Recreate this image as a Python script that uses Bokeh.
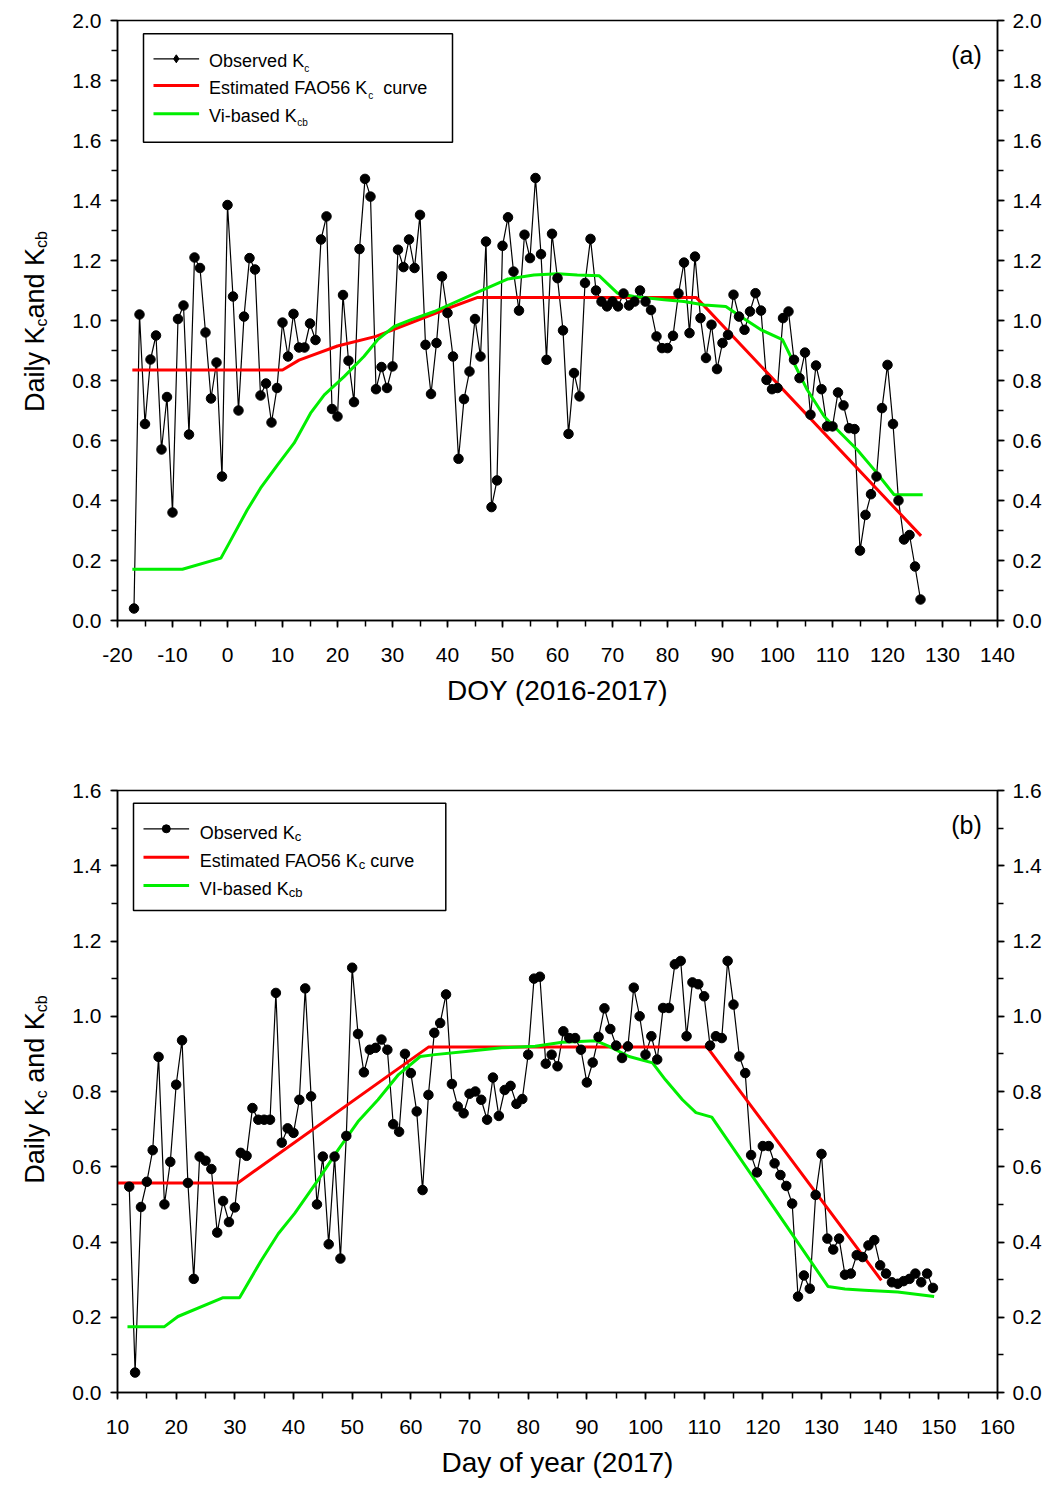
import math
from bokeh.plotting import figure
from bokeh.models import (Range1d, LinearAxis, SingleIntervalTicker,
                          PrintfTickFormatter, Label, BoxAnnotation)
from bokeh.layouts import column, row
from bokeh.embed import file_html
from bokeh.resources import INLINE

FONT = "Liberation Sans"
RED = "#FF0000"
GREEN = "#00EE00"

# ---------------- Panel (a): DOY 2016-2017 ----------------
doy_a = list(range(-17, 127))
kc_obs_a = [
    0.04, 1.02, 0.655, 0.87, 0.95, 0.57, 0.745, 0.36, 1.005, 1.05,
    0.62, 1.21, 1.175, 0.96, 0.74, 0.86, 0.48, 1.385, 1.08, 0.70,
    1.013, 1.208, 1.17, 0.75, 0.79, 0.66, 0.775, 0.993, 0.88, 1.022,
    0.91, 0.91, 0.99, 0.935, 1.27, 1.347, 0.705, 0.68, 1.085, 0.866,
    0.728, 1.238, 1.472, 1.413, 0.771, 0.845, 0.775, 0.847, 1.236, 1.178,
    1.27, 1.175, 1.352, 0.919, 0.755, 0.925, 1.147, 1.025, 0.88, 0.539,
    0.738, 0.83, 1.005, 0.88, 1.263, 0.378, 0.467, 1.249, 1.344, 1.163,
    1.033, 1.286, 1.208, 1.475, 1.221, 0.869, 1.289, 1.141, 0.967, 0.622,
    0.825, 0.747, 1.125, 1.272, 1.10, 1.063, 1.047, 1.063, 1.047, 1.09,
    1.05, 1.063, 1.10, 1.063, 1.035, 0.947, 0.908, 0.908, 0.949, 1.09,
    1.193, 0.958, 1.213, 1.008, 0.875, 0.986, 0.838, 0.925, 0.952, 1.086,
    1.013, 0.969, 1.03, 1.091, 1.033, 0.802, 0.771, 0.775, 1.008, 1.03,
    0.869, 0.808, 0.893, 0.686, 0.85, 0.771, 0.647, 0.647, 0.76, 0.717,
    0.641, 0.638, 0.233, 0.352, 0.421, 0.48, 0.708, 0.852, 0.655, 0.40,
    0.27, 0.285, 0.18, 0.07,
]
fao_doy_a = [-17.3, 10, 13, 20, 27, 33, 40, 45.5, 85.2, 126.1]
fao_kc_a = [0.835, 0.835, 0.868, 0.915, 0.947, 0.99, 1.04, 1.077, 1.077, 0.282]
vi_doy_a = [-17.3, -8.2, -1.2, 0.3, 3.6, 6.0, 9.1, 12.1, 15.1, 17.6,
            21.2, 24.8, 27.3, 30.3, 33.3, 37.6, 45.1, 50.9, 55.7, 60.0,
            63.6, 67.6, 70.9, 73.9, 79.4, 83.0, 86.7, 90.6, 93.3, 97.0,
            100.9, 102.4, 105.4, 108.5, 111.5, 114.5, 117.6, 121.2, 126.4]
vi_kcb_a = [0.171, 0.171, 0.208, 0.258, 0.369, 0.441, 0.519, 0.591, 0.691, 0.752,
            0.813, 0.88, 0.936, 0.98, 1.002, 1.03, 1.091, 1.138, 1.152, 1.156,
            1.152, 1.149, 1.091, 1.08, 1.069, 1.063, 1.052, 1.047, 1.013, 0.969,
            0.936, 0.88, 0.769, 0.68, 0.624, 0.569, 0.502, 0.419, 0.419]

# ---------------- Panel (b): Day of year 2017 ----------------
doy_b = list(range(12, 150))
kc_obs_b = [
    0.547, 0.053, 0.493, 0.56, 0.644, 0.892, 0.50, 0.613, 0.818, 0.936,
    0.557, 0.302, 0.627, 0.616, 0.594, 0.425, 0.509, 0.453, 0.492, 0.637,
    0.629, 0.756, 0.725, 0.725, 0.725, 1.062, 0.664, 0.702, 0.69, 0.778,
    1.074, 0.787, 0.50, 0.627, 0.394, 0.627, 0.356, 0.682, 1.129, 0.953,
    0.851, 0.911, 0.916, 0.938, 0.911, 0.713, 0.693, 0.90, 0.849, 0.747,
    0.538, 0.791, 0.956, 0.982, 1.058, 0.82, 0.76, 0.742, 0.794, 0.80,
    0.778, 0.725, 0.837, 0.735, 0.804, 0.815, 0.767, 0.78, 0.898, 1.10,
    1.105, 0.874, 0.898, 0.867, 0.96, 0.942, 0.942, 0.911, 0.824, 0.877,
    0.945, 1.021, 0.966, 0.922, 0.889, 0.92, 1.076, 1.0, 0.898, 0.947,
    0.885, 1.022, 1.022, 1.138, 1.147, 0.947, 1.09, 1.085, 1.053, 0.922,
    0.947, 0.942, 1.147, 1.031, 0.893, 0.849, 0.631, 0.585, 0.655, 0.655,
    0.609, 0.578, 0.549, 0.502, 0.255, 0.311, 0.276, 0.525, 0.634, 0.409,
    0.38, 0.409, 0.313, 0.316, 0.365, 0.36, 0.391, 0.405, 0.338, 0.316,
    0.293, 0.289, 0.296, 0.302, 0.316, 0.293, 0.316, 0.278,
]
fao_doy_b = [10, 30.5, 63, 110.5, 140.2]
fao_kc_b = [0.557, 0.557, 0.918, 0.918, 0.298]
vi_doy_b = [11.7, 18.0, 20.3, 28.0, 30.8, 34.5, 37.4, 40.2, 44.2, 47.6,
            51.0, 54.4, 57.9, 61.6, 64.1, 69.8, 75.5, 81.2, 85.8, 91.5,
            93.8, 97.2, 101.2, 103.4, 106.3, 108.6, 111.3, 131.1, 134.0, 137.3,
            143.0, 149.2]
vi_kcb_b = [0.175, 0.175, 0.202, 0.252, 0.252, 0.351, 0.422, 0.476, 0.565, 0.645,
            0.72, 0.778, 0.845, 0.893, 0.898, 0.907, 0.916, 0.92, 0.931, 0.935,
            0.92, 0.893, 0.876, 0.831, 0.778, 0.744, 0.732, 0.282, 0.275, 0.272,
            0.267, 0.255]

# Arial / Liberation Sans advance widths (per 1000 em)
AW = {' ': 278, '(': 333, ')': 333, '-': 333, '.': 278,
      'A': 667, 'D': 722, 'E': 667, 'F': 611, 'I': 278, 'K': 667, 'O': 778, 'V': 667,
      'a': 556, 'b': 556, 'c': 500, 'd': 556, 'e': 556, 'i': 222, 'l': 222,
      'm': 833, 'n': 556, 'o': 556, 'r': 333, 's': 500, 't': 278, 'u': 556,
      'v': 500, 'y': 500}


def tw(s, size):
    return sum(AW.get(ch, 556) for ch in s) / 1000.0 * size


FW = 880
LW = 50          # width of the strip that carries the rotated y title
LEFT = 117 - LW  # left border of the plot so the frame starts at x=117


def mapper(x0, x1, y0, y1, fh):
    fx = lambda px: x0 + px * (x1 - x0) / FW
    fy = lambda py: y1 - py * (y1 - y0) / fh
    return fx, fy


def style_axis(ax, size, standoff):
    ax.axis_line_color = "black"
    ax.axis_line_width = 1.5
    ax.major_tick_line_color = "black"
    ax.minor_tick_line_color = "black"
    ax.major_tick_line_width = 1.5
    ax.minor_tick_line_width = 1.5
    ax.major_tick_in = 0
    ax.major_tick_out = 7
    ax.minor_tick_in = 0
    ax.minor_tick_out = 6
    ax.major_label_text_font = FONT
    ax.major_label_text_font_size = f"{size}px"
    ax.major_label_text_color = "black"
    ax.major_label_standoff = standoff


def add_rich(p, fx, fy, px, py, segs, angle=0.0):
    pos = 0.0
    for txt, size, shift in segs:
        lead = len(txt) - len(txt.lstrip(' '))
        pos += tw(' ' * lead, size)
        core = txt.strip(' ')
        if angle == 0.0:
            x, y = fx(px + pos), fy(py + shift)
        else:
            x, y = fx(px + shift), fy(py - pos)
        p.add_layout(Label(x=x, y=y, text=core, text_font=FONT,
                           text_font_size=f"{size}px", text_color="black",
                           text_align="left", text_baseline="alphabetic",
                           angle=angle))
        pos += tw(core, size)
        trail = len(txt) - len(txt.rstrip(' '))
        pos += tw(' ' * trail, size)


def rich_len(segs):
    return sum(tw(t, s) for t, s, _ in segs)


def build(x0, x1, y0, y1, fh, top, bottom, xlabel, xfmt,
          doy, obs, fdoy, fkc, vdoy, vkcb, legend, tag):
    p = figure(frame_width=FW, frame_height=fh,
               x_range=Range1d(x0, x1), y_range=Range1d(y0, y1),
               output_backend="svg", toolbar_location=None,
               min_border_left=LEFT, min_border_right=45,
               min_border_top=top, min_border_bottom=bottom)
    p.xgrid.visible = False
    p.ygrid.visible = False
    p.outline_line_color = "black"
    p.outline_line_width = 1.5
    p.outline_line_alpha = 1.0
    p.background_fill_color = "white"
    p.border_fill_color = "white"

    xa = p.xaxis[0]
    xa.ticker = SingleIntervalTicker(interval=10, num_minor_ticks=2)
    xa.formatter = PrintfTickFormatter(format=xfmt)
    style_axis(xa, 21, 20)
    xa.axis_label = xlabel
    xa.axis_label_text_font = FONT
    xa.axis_label_text_font_size = "28px"
    xa.axis_label_text_font_style = "normal"
    xa.axis_label_text_color = "black"
    xa.axis_label_standoff = 10

    ya = p.yaxis[0]
    ya.ticker = SingleIntervalTicker(interval=0.2, num_minor_ticks=2)
    ya.formatter = PrintfTickFormatter(format="%.1f")
    style_axis(ya, 21, 9)

    ra = LinearAxis(ticker=SingleIntervalTicker(interval=0.2, num_minor_ticks=2),
                    formatter=PrintfTickFormatter(format="%.1f"))
    style_axis(ra, 21, 8)
    p.add_layout(ra, "right")

    p.line(doy, obs, line_color="black", line_width=1.2)
    p.line(fdoy, fkc, line_color=RED, line_width=3)
    p.line(vdoy, vkcb, line_color=GREEN, line_width=3)
    p.scatter(doy, obs, marker="circle", size=9.5, fill_color="black",
              line_color="black")

    fx, fy = mapper(x0, x1, y0, y1, fh)

    # legend drawn by hand so that the subscripts stay real text
    bl, br, bt, bb = legend["box"]
    p.add_layout(BoxAnnotation(left=fx(bl), right=fx(br), top=fy(bt), bottom=fy(bb),
                               fill_color=None, fill_alpha=0.0,
                               line_color="black", line_alpha=1.0, line_width=1.5))
    sx0, sx1 = legend["sample_x"]
    for r in legend["rows"]:
        sy = r["sample_y"]
        p.line([fx(sx0), fx(sx1)], [fy(sy), fy(sy)], line_color=r["color"],
               line_width=r["width"])
        if r.get("marker"):
            p.scatter([fx((sx0 + sx1) / 2)], [fy(sy)], marker=r["marker"],
                      size=8, fill_color="black", line_color="black")
        add_rich(p, fx, fy, legend["text_x"], r["baseline"], r["segs"])

    p.add_layout(Label(x=fx(849), y=fy(34), text=tag, text_font=FONT,
                       text_font_size="25px", text_color="black",
                       text_align="center", text_baseline="middle"))
    return p


def title_strip(fh, top, bottom, center_from_top, segs):
    # a narrow companion figure whose frame lines up with the plot frame
    s = figure(frame_width=LW, frame_height=fh,
               x_range=Range1d(0, LW), y_range=Range1d(0, fh),
               output_backend="svg", toolbar_location=None,
               x_axis_type=None, y_axis_type=None,
               min_border_left=0, min_border_right=0,
               min_border_top=top, min_border_bottom=bottom)
    s.outline_line_color = None
    s.background_fill_color = "white"
    s.border_fill_color = "white"
    s.grid.visible = False
    fx = lambda px: px
    fy = lambda py: fh - py
    L = rich_len(segs)
    add_rich(s, fx, fy, 34, center_from_top + L / 2, segs, angle=math.pi / 2)
    return s


SUB_A = 10
LEG = 18
legend_a = {
    "box": (26, 335, 13.3, 121.7),
    "sample_x": (36, 81.6),
    "text_x": 91.6,
    "rows": [
        {"sample_y": 38.3, "baseline": 40.7, "color": "black", "width": 1.2,
         "marker": "diamond",
         "segs": [("Observed K", LEG, 0), ("c", SUB_A, 7)]},
        {"sample_y": 65, "baseline": 67.7, "color": RED, "width": 3,
         "segs": [("Estimated FAO56 K", LEG, 0), ("c", SUB_A, 7), ("  curve", LEG, 0)]},
        {"sample_y": 93.3, "baseline": 95, "color": GREEN, "width": 3,
         "segs": [("Vi-based K", LEG, 0), ("cb", SUB_A, 7)]},
    ],
}
SUB_B = 13
legend_b = {
    "box": (16, 328.3, 12.7, 120),
    "sample_x": (26, 71.6),
    "text_x": 82.3,
    "rows": [
        {"sample_y": 38.3, "baseline": 42.3, "color": "black", "width": 1.2,
         "marker": "circle",
         "segs": [("Observed K", LEG, 0), ("c", SUB_B, 4)]},
        {"sample_y": 66.7, "baseline": 70, "color": RED, "width": 3,
         "segs": [("Estimated FAO56 K", LEG, 0), ("c", SUB_B, 4), (" curve", LEG, 0)]},
        {"sample_y": 95, "baseline": 98.3, "color": GREEN, "width": 3,
         "segs": [("VI-based K", LEG, 0), ("cb", SUB_B, 4)]},
    ],
}

ylab_a = [("Daily K", 27, 0), ("c", 16, 7), ("and K", 27, 0), ("cb", 16, 7)]
ylab_b = [("Daily K", 27, 0), ("c", 16, 7), (" and K", 27, 0), ("cb", 16, 7)]

TOP_A, BOT_A, FH_A = 20, 100, 600
TOP_B, BOT_B, FH_B = 70, 90, 602

pa = build(-20, 140, 0, 2.0, FH_A, TOP_A, BOT_A, "DOY (2016-2017)", "%d",
           doy_a, kc_obs_a, fao_doy_a, fao_kc_a, vi_doy_a, vi_kcb_a,
           legend_a, "(a)")
pb = build(10, 160, 0, 1.6, FH_B, TOP_B, BOT_B, "Day of year (2017)", "%d",
           doy_b, kc_obs_b, fao_doy_b, fao_kc_b, vi_doy_b, vi_kcb_b,
           legend_b, "(b)")

sa = title_strip(FH_A, TOP_A, BOT_A, FH_A / 2 + 1, ylab_a)
sb = title_strip(FH_B, TOP_B, BOT_B, FH_B / 2 - 2, ylab_b)

layout = column(row(sa, pa, spacing=0), row(sb, pb, spacing=0), spacing=0)
open("out.html", "w").write(file_html(layout, INLINE))
